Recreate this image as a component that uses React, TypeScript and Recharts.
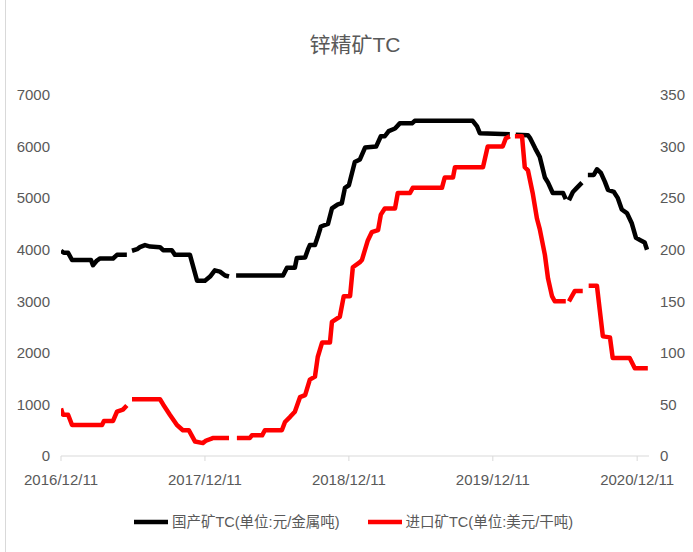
import React from 'react';
import { LineChart, Line, XAxis, YAxis, Legend } from 'recharts';

const title = '锌精矿TC';
const seriesNames = ['国产矿TC(单位:元/金属吨)', '进口矿TC(单位:美元/干吨)'];
const baseDate = '2016-12-11';
const tickDates = ['2016-12-11', '2017-12-11', '2018-12-11', '2019-12-11', '2020-12-11'];
const tickLabels = ['2016/12/11', '2017/12/11', '2018/12/11', '2019/12/11', '2020/12/11'];
const axisEndDate = '2021-01-10';
const leftTicks = [0, 1000, 2000, 3000, 4000, 5000, 6000, 7000];
const rightTicks = [0, 50, 100, 150, 200, 250, 300, 350];

const domesticDates = [
  '2016-12-11', '2016-12-18', '2016-12-29', '2017-01-08', '2017-02-25', '2017-03-02', '2017-03-12', '2017-03-20',
  '2017-04-22', '2017-05-02', '2017-05-27', '2017-06-03', '2017-06-09', '2017-06-22', '2017-06-29', '2017-07-12',
  '2017-07-25', '2017-08-19', '2017-08-27', '2017-09-18', '2017-09-26', '2017-11-03', '2017-11-21', '2017-12-11',
  '2017-12-24', '2018-01-05', '2018-01-18', '2018-01-31', '2018-02-10', '2018-02-16', '2018-02-28', '2018-06-27',
  '2018-07-07', '2018-07-27', '2018-08-01', '2018-08-22', '2018-08-29', '2018-09-03', '2018-09-16', '2018-09-23',
  '2018-10-01', '2018-10-19', '2018-10-29', '2018-11-13', '2018-11-23', '2018-12-01', '2018-12-11', '2018-12-26',
  '2019-01-08', '2019-01-21', '2019-02-18', '2019-03-02', '2019-03-12', '2019-03-22', '2019-04-07', '2019-04-19',
  '2019-05-20', '2019-05-27', '2019-10-21', '2019-11-01', '2019-11-08', '2020-01-23', '2020-01-30', '2020-02-07',
  '2020-03-09', '2020-03-14', '2020-03-27', '2020-04-08', '2020-04-21', '2020-04-29', '2020-05-11', '2020-06-06',
  '2020-06-13', '2020-06-17', '2020-06-21', '2020-07-01', '2020-07-11', '2020-07-24', '2020-07-30', '2020-08-08',
  '2020-08-23', '2020-08-31', '2020-09-10', '2020-09-20', '2020-09-28', '2020-10-13', '2020-10-23', '2020-11-02',
  '2020-11-15', '2020-11-27', '2020-12-08', '2020-12-18', '2020-12-30', '2021-01-05',
];
const domesticValues = [
  3980, 3940, 3940, 3800, 3800, 3700, 3790, 3830,
  3830, 3900, 3900, null, 3980, 4010, 4050, 4090,
  4060, 4050, 3990, 3990, 3900, 3900, 3400, 3400,
  3480, 3600, 3575, 3500, 3480, null, 3500, 3500,
  3650, 3650, 3840, 3850, 4000, 4090, 4090, 4250,
  4450, 4500, 4800, 4880, 4900, 5200, 5250, 5700,
  5750, 5980, 6000, 6200, 6200, 6300, 6350, 6450,
  6450, 6500, 6500, 6390, 6260, 6240, null, 6230,
  6220, 6170, 5970, 5800, 5400, 5300, 5100, 5100,
  4980, null, 4960, 5120, 5200, 5300, null, 5450,
  5450, 5560, 5490, 5320, 5160, 5120, 5000, 4780,
  4710, 4520, 4230, 4190, 4140, 4000,
];

const importDates = [
  '2016-12-11', '2016-12-16', '2016-12-29', '2017-01-08', '2017-03-25', '2017-03-30', '2017-04-22', '2017-05-02',
  '2017-05-17', '2017-05-27', '2017-06-03', '2017-06-09', '2017-08-19', '2017-08-27', '2017-09-13', '2017-10-01',
  '2017-10-16', '2017-10-31', '2017-11-16', '2017-12-06', '2017-12-14', '2017-12-26', '2017-12-31', '2018-02-10',
  '2018-02-16', '2018-03-02', '2018-04-04', '2018-04-09', '2018-05-05', '2018-05-12', '2018-06-24', '2018-07-02',
  '2018-07-15', '2018-07-27', '2018-08-09', '2018-08-22', '2018-09-03', '2018-09-16', '2018-09-23', '2018-10-04',
  '2018-10-24', '2018-10-29', '2018-11-18', '2018-11-28', '2018-12-14', '2018-12-21', '2019-01-08', '2019-01-13',
  '2019-01-28', '2019-02-07', '2019-02-23', '2019-03-02', '2019-03-12', '2019-04-07', '2019-04-14', '2019-05-15',
  '2019-05-22', '2019-08-04', '2019-08-11', '2019-09-01', '2019-09-06', '2019-11-16', '2019-11-28', '2020-01-05',
  '2020-01-13', '2020-01-23', '2020-01-30', '2020-02-05', '2020-02-23', '2020-03-01', '2020-03-09', '2020-03-21',
  '2020-04-01', '2020-04-08', '2020-04-21', '2020-04-29', '2020-05-09', '2020-05-16', '2020-06-13', '2020-06-17',
  '2020-06-21', '2020-07-06', '2020-07-26', '2020-07-30', '2020-08-10', '2020-08-31', '2020-09-07', '2020-09-15',
  '2020-10-03', '2020-10-10', '2020-11-22', '2020-12-05', '2021-01-07',
];
const importValues = [
  46, 40, 40, 30, 30, 34, 34, 43,
  45, 49, null, 55, 55, 50, 40, 30,
  25, 25, 14, 12.5, 15, 16.5, 17.5, 17.5,
  null, 17.5, 17.5, 20, 20, 25, 25, 33,
  38, 43, 57, 59, 74, 77, 96, 110,
  110, 130, 135, 155, 155, 183, 188, 190,
  209, 217, 219, 234, 240, 240, 255, 255,
  260, 260, 270, 270, 280, 280, 300, 300,
  308, 310, null, 310, 310, 280, 277, 255,
  230, 220, 195, 172, 155, 150, 150, null,
  150, 160, 160, null, 165, 165, 142, 116,
  115, 95, 95, 85, 85,
];

const toDay = (s: string) => {
  const [y, m, d] = s.split('-').map(Number);
  const [by, bm, bd] = baseDate.split('-').map(Number);
  return Math.round((Date.UTC(y, m - 1, d) - Date.UTC(by, bm - 1, bd)) / 86400000);
};

const domesticData = domesticDates.map((d, i) => ({ t: toDay(d), v: domesticValues[i] }));
const importData = importDates.map((d, i) => ({ t: toDay(d), v: importValues[i] }));
const xTicks = tickDates.map(toDay);
const labelFor = (t: number) => {
  const i = xTicks.indexOf(t);
  return i >= 0 ? tickLabels[i] : '';
};

const FONT = '"Liberation Sans", "Noto Sans CJK SC", sans-serif';
const GRAY = '#595959';

const renderLegend = () => (
  <div style={{ display: 'flex', justifyContent: 'center', alignItems: 'center', gap: 28, fontFamily: FONT, fontSize: 14.5, color: GRAY, paddingLeft: 14 }}>
    {[{ c: '#000000', n: seriesNames[0] }, { c: '#FF0000', n: seriesNames[1] }].map((it) => (
      <div key={it.n} style={{ display: 'flex', alignItems: 'center' }}>
        <svg width={34} height={10} style={{ marginRight: 4 }}>
          <line x1={0} y1={5} x2={34} y2={5} stroke={it.c} strokeWidth={4.5} />
        </svg>
        <span style={{ lineHeight: '20px' }}>{it.n}</span>
      </div>
    ))}
  </div>
);

export default function App() {
  return (
    <div style={{ position: 'absolute', left: 0, top: 0, width: 693, height: 552, background: '#fff' }}>
      <div style={{ position: 'absolute', left: 5, top: 0, width: 1, height: 552, background: '#d9d9d9' }} />
      <div style={{ position: 'absolute', left: 0, top: 30, width: 710, textAlign: 'center', fontFamily: FONT, fontSize: 21, color: GRAY, lineHeight: '30px' }}>
        {title}
      </div>
      <LineChart width={693} height={552} margin={{ top: 95, right: 0, bottom: 66, left: 0 }}>
        <XAxis
          type="number"
          dataKey="t"
          domain={[0, toDay(axisEndDate)]}
          ticks={xTicks}
          tickFormatter={labelFor}
          allowDataOverflow
          height={30}
          stroke="#d9d9d9"
          tickSize={5}
          tickMargin={13}
          tick={{ fill: GRAY, fontSize: 15, fontFamily: FONT }}
        />
        <YAxis
          yAxisId="left"
          orientation="left"
          domain={[0, 7000]}
          ticks={leftTicks}
          width={61}
          axisLine={false}
          tickLine={false}
          tickSize={0}
          tickMargin={11}
          tick={{ fill: GRAY, fontSize: 15, fontFamily: FONT }}
        />
        <YAxis
          yAxisId="right"
          orientation="right"
          domain={[0, 350]}
          ticks={rightTicks}
          width={44}
          axisLine={false}
          tickLine={false}
          tickSize={0}
          tickMargin={11}
          tick={{ fill: GRAY, fontSize: 15, fontFamily: FONT }}
        />
        <Legend
          layout="horizontal"
          verticalAlign="middle"
          align="center"
          content={renderLegend}
          wrapperStyle={{ top: 512, left: 0, width: 693, height: 22 }}
        />
        <Line
          yAxisId="left"
          data={domesticData}
          dataKey="v"
          name={seriesNames[0]}
          type="linear"
          stroke="#000000"
          strokeWidth={4.5}
          strokeLinejoin="round"
          dot={false}
          activeDot={false}
          connectNulls={false}
          isAnimationActive={false}
        />
        <Line
          yAxisId="right"
          data={importData}
          dataKey="v"
          name={seriesNames[1]}
          type="linear"
          stroke="#FF0000"
          strokeWidth={4.5}
          strokeLinejoin="round"
          dot={false}
          activeDot={false}
          connectNulls={false}
          isAnimationActive={false}
        />
      </LineChart>
    </div>
  );
}
